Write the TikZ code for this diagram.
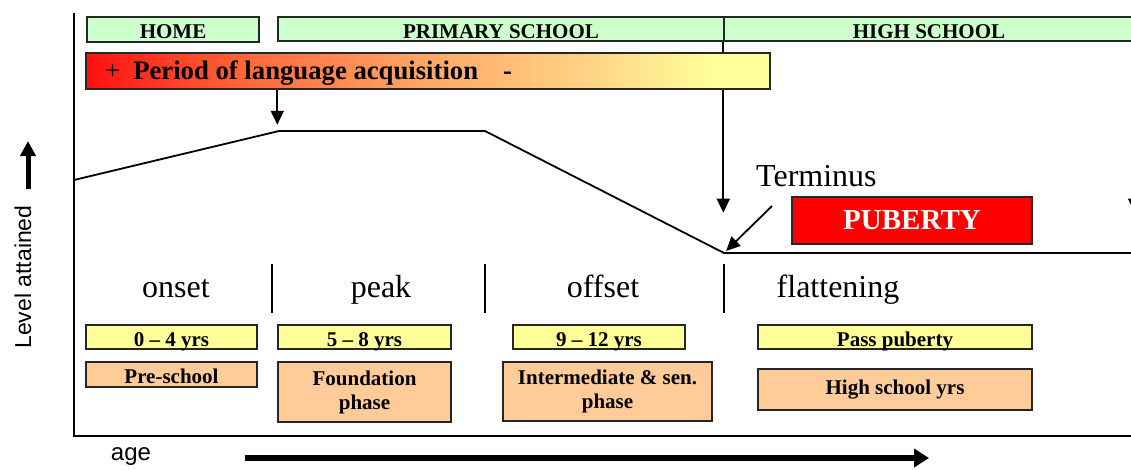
\documentclass[tikz,border=0pt]{standalone}
\usepackage{fontspec}
\setmainfont{Liberation Serif}
\setsansfont{Liberation Sans}
\usetikzlibrary{arrows.meta}

\definecolor{bandgreen}{HTML}{CCFFCC}
\definecolor{ageyellow}{HTML}{FFFF99}
\definecolor{stagepeach}{HTML}{FFCC99}
\definecolor{pubred}{HTML}{FF0000}
\definecolor{edge}{HTML}{262626}
\definecolor{lsA}{HTML}{FF1010}
\definecolor{lsB}{HTML}{FF6A3C}
\definecolor{lsC}{HTML}{FFA868}
\definecolor{lsD}{HTML}{FFD488}
\definecolor{lsE}{HTML}{FFFF99}
% red -> orange -> pale yellow, left to right
\pgfdeclarehorizontalshading{langshade}{100bp}{color(0bp)=(lsA); color(25bp)=(lsA); color(37bp)=(lsB); color(50bp)=(lsC); color(62bp)=(lsD); color(71bp)=(lsE); color(75bp)=(lsE); color(100bp)=(lsE)}

\tikzset{
  boxbase/.style={draw=edge, line width=1.4pt, inner sep=0pt, align=center},
  lowtext/.style={text height=18pt, text depth=0pt},
  band/.style={boxbase, lowtext, fill=bandgreen, font=\fontsize{21}{24}\selectfont\bfseries},
  agebox/.style={boxbase, lowtext, fill=ageyellow, minimum height=24pt, font=\fontsize{21}{24}\selectfont\bfseries},
  stagebox/.style={boxbase, fill=stagepeach, font=\fontsize{21}{24}\selectfont\bfseries},
  phase/.style={font=\fontsize{32}{36}\selectfont, anchor=base, inner sep=0pt},
  divider/.style={line width=1.4pt},
  curve/.style={line width=1.8pt},
  pointer/.style={line width=1.8pt, -{Triangle[width=13pt,length=14pt]}},
  axislabel/.style={font=\sffamily\fontsize{23}{26}\selectfont, inner sep=0pt},
}

\begin{document}
\begin{tikzpicture}[x=1pt,y=-1pt]
\useasboundingbox (0,0) rectangle (1131,469);
\clip (0,0) rectangle (1131,469);

% school bands
\node[band, minimum width=172pt, minimum height=25pt] (home) at (173,29.5) {HOME};
\node[band, minimum width=446pt, minimum height=24pt] (primary) at (501,29) {PRIMARY SCHOOL};
\node[band, minimum width=410pt, minimum height=24pt] (high) at (929,29) {HIGH SCHOOL};

% long pointers from the band boundaries (run behind the acquisition bar)
\draw[pointer] (high.south west) -- ++(0,171);
\draw[pointer] (high.south east) -- ++(0,171);

% period of language acquisition bar
\node[draw=edge, line width=1.6pt, shading=langshade, minimum width=684pt, minimum height=36pt, inner sep=0pt] (lang) at (428,71) {};
\node[anchor=base west, inner sep=0pt, font=\fontsize{26.7}{30}\selectfont\bfseries] (langtext) at (105,79)
  {{\mdseries +}\hspace{13pt}Period of language acquisition\hspace{25pt}-};
\draw[pointer] (lang.south -| primary.west) -- ++(0,35);

% level curve
\coordinate (c0) at (74,180);
\coordinate (c1) at (279,131);
\coordinate (c2) at (485,131);
\coordinate (trough) at (724,253);
\coordinate (c4) at (1140,253);
\draw[curve] (c0) -- (c1) -- (c2) -- (trough) -- (c4);

% terminus and puberty
\node[phase, anchor=base west] (term) at (756,186) {Terminus};
\coordinate (termtail) at (772,206);
\draw[pointer, shorten >=3pt] (termtail) -- (trough);
\node[boxbase, fill=pubred, minimum width=240pt, minimum height=47pt, text=white, font=\fontsize{29}{32}\selectfont\bfseries] (puberty) at (912,220.5) {PUBERTY};

% phases
\node[phase] (onset) at (176,297) {onset};
\node[phase] (peak) at (381,297) {peak};
\node[phase] (offset) at (603,297) {offset};
\node[phase] (flat) at (838,297) {flattening};
\draw[divider] (272,264) -- (272,313);
\draw[divider] (485,264) -- (485,313);
\draw[divider] (724,264) -- (724,313);

% ages
\node[agebox, minimum width=171pt] (a1) at (171.5,337) {0 -- 4 yrs};
\node[agebox, minimum width=173pt] (a2) at (364.5,337) {5 -- 8 yrs};
\node[agebox, minimum width=172pt] (a3) at (599,337) {9 -- 12 yrs};
\node[agebox, minimum width=274pt] (a4) at (895,337) {Pass puberty};

% schooling stages
\node[stagebox, lowtext, minimum width=171pt, minimum height=25pt] (s1) at (171.5,374.5) {Pre-school};
\node[stagebox, minimum width=173pt, minimum height=60pt] (s2) at (364.5,392) {Foundation\\phase};
\node[stagebox, minimum width=209pt, minimum height=59pt] (s3) at (607.5,391.5) {Intermediate \& sen.\\phase};
\node[stagebox, minimum width=274pt, minimum height=41pt] (s4) at (895,389.5) {High school yrs};

% axes
\draw[line width=1.8pt] (74,13) -- (74,436) -- (1140,436);
\node[axislabel, rotate=90] (level) at (23,277) {Level attained};
\draw[line width=5pt, -{Triangle[width=15pt,length=15pt]}] (28,189) -- (28,141);
\node[axislabel, font=\sffamily\fontsize{24}{27}\selectfont] (age) at (131,457) {age};
\draw[line width=6pt, -{Triangle[width=18pt,length=15pt]}] (245,458) -- (929,458);
\end{tikzpicture}
\end{document}
